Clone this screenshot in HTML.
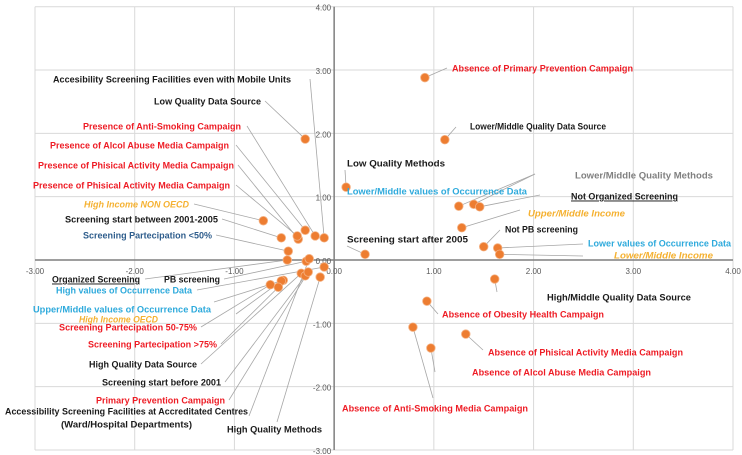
<!DOCTYPE html>
<html><head><meta charset="utf-8"><style>
html,body{margin:0;padding:0;background:#fff;}
svg{display:block;font-family:"Liberation Sans",sans-serif;}
</style></head><body>
<svg id="chart" width="742" height="455" viewBox="0 0 742 455" xmlns="http://www.w3.org/2000/svg"></svg>
<script>
// ---- data ----
const pointX = [0.91,1.11,0.12,1.25,1.40,1.46,1.28,1.50,1.64,1.66,0.31,1.61,0.93,1.32,0.97,0.79,
  -0.10,-0.29,-0.19,-0.29,-0.36,-0.37,-0.71,-0.53,-0.46,-0.47,-0.28,-0.10,-0.51,-0.53,-0.64,-0.56,-0.33,-0.29,-0.26,-0.25,-0.14];
const pointY = [2.88,1.90,1.15,0.85,0.88,0.84,0.51,0.21,0.19,0.09,0.09,-0.30,-0.65,-1.17,-1.39,-1.06,
  0.35,1.91,0.38,0.47,0.33,0.38,0.62,0.35,0.14,0.00,-0.02,-0.11,-0.32,-0.33,-0.39,-0.43,-0.21,-0.25,-0.19,0.02,-0.27];
const pointLabels = ["Absence of Primary Prevention Campaign","Lower/Middle Quality Data Source","Low  Quality Methods",
 "Lower/Middle values of Occurrence Data","Lower/Middle Quality Methods","Not Organized Screening","Upper/Middle Income",
 "Not PB screening","Lower values of Occurrence Data","Lower/Middle  Income","Screening start after 2005",
 "High/Middle Quality Data Source","Absence of Obesity Health Campaign","Absence of Phisical Activity Media Campaign",
 "Absence of Alcol Abuse Media Campaign","Absence of Anti-Smoking Media Campaign",
 "Accesibility Screening Facilities even with Mobile Units","Low Quality Data Source","Presence of Anti-Smoking Campaign",
 "Presence of Alcol Abuse Media Campaign","Presence of Phisical Activity Media Campaign","Presence of Phisical Activity Media Campaign",
 "High Income NON OECD","Screening start between 2001-2005","Screening Partecipation <50%","Organized Screening","PB screening",
 "High values of Occurrence Data","Upper/Middle values of Occurrence Data","High Income OECD","Screening Partecipation 50-75%",
 "Screening Partecipation >75%","High Quality Data Source","Screening start before 2001","Primary Prevention Campaign",
 "Accessibility Screening Facilities at Accreditated Centres","High Quality Methods"];
const xTicks = [-3,-2,-1,0,1,2,3,4];
const yTicks = [-3,-2,-1,0,1,2,3,4];
const xTickLabels = ["-3.00","-2.00","-1.00","0.00","1.00","2.00","3.00","4.00"];
const yTickLabels = ["-3.00","-2.00","-1.00","0.00","1.00","2.00","3.00","4.00"];
// label layout: [x, y, anchor, width, color, style, leaderX, leaderY]
const K="#1a1a1a",R="#ee1c25",C="#2eaadc",O="#f5b131",G="#808080",B="#2e5d8c";
const layout = [
 [452,68,"start",181,R,"",447,68],[470,126,"start",136,K,"",456,127],[347,163,"start",98,K,"",345,170],
 [347,191,"start",180,C,"",535,174],[575,175,"start",138,G,"",535,174],[571,196,"start",107,K,"u",540,195],
 [528,213,"start",97,O,"i",520,210],[505,229,"start",73,K,"",500,230],[588,243,"start",143,C,"",583,244],
 [614,255,"start",99,O,"i",583,256],[347,239,"start",121,K,"",347,246],[547,297,"start",144,K,"",497,292],
 [442,314,"start",162,R,"",438,314],[488,352,"start",195,R,"",483,350],[472,372,"start",179,R,"",435,372],
 [342,408,"start",186,R,"",433,398],
 [291,79,"end",238,K,"",310,79],[261,101,"end",107,K,"",265,101],[241,126,"end",158,R,"",247,126],
 [229,145,"end",179,R,"",236,145],[234,165,"end",196,R,"",238,165],[230,185,"end",197,R,"",236,185],
 [189,204,"end",105,O,"i",194,204],[218,219,"end",153,K,"",222,219],[212,235,"end",129,B,"",216,235],
 [52,279,"start",88,K,"u",145,279],[220,279,"end",56,K,"",224,279],[192,290,"end",136,C,"",197,290],
 [211,309,"end",178,C,"",214,302],[158,319,"end",79,O,"i",236,314],[197,327,"end",138,R,"",201,327],
 [217,344,"end",129,R,"",221,344],[197,364,"end",108,K,"",201,364],[221,382,"end",119,K,"",225,382],
 [225,400,"end",129,R,"",229,400],[248,411,"end",243,K,"",249,416],[322,429,"end",95,K,"",277,422]
];
// ---- scales ----
const x0=35,x1=733,y0=450,y1=6.7;
const sx=v=>x0+(v-(-3))*(x1-x0)/7;
const sy=v=>y0-(v-(-3))*(y0-y1)/7;
const svg=document.getElementById('chart');
const NS="http://www.w3.org/2000/svg";
function mk(tag,attrs){const e=document.createElementNS(NS,tag);for(const k in attrs)e.setAttribute(k,attrs[k]);svg.appendChild(e);return e;}
// gridlines
xTicks.forEach((t,i)=>{
  const g=mk('line',{x1:sx(t),x2:sx(t),y1:sy(4),y2:sy(-3),stroke:'#d9d9d9','stroke-width':1});
  
  
});
yTicks.forEach((t,i)=>{
  const g=mk('line',{x1:sx(-3),x2:sx(4),y1:sy(t),y2:sy(t),stroke:'#d9d9d9','stroke-width':1});
  
  
});
// axes
const xa=mk('line',{x1:sx(-3),x2:sx(4),y1:sy(0),y2:sy(0),stroke:'#7f7f7f','stroke-width':1.5});


const ya=mk('line',{x1:sx(0),x2:sx(0),y1:sy(4),y2:sy(-3),stroke:'#7f7f7f','stroke-width':1.5});


// tick labels
xTicks.forEach((t,i)=>{
  const e=mk('text',{x:sx(t),y:sy(0)+14,'text-anchor':'middle','font-size':8,fill:'#595959'});
  e.textContent=xTickLabels[i];
  
  
});
yTicks.forEach((t,i)=>{
  const e=mk('text',{x:sx(0)-3,y:sy(t)+4,'text-anchor':'end','font-size':8,fill:'#595959'});
  e.textContent=yTickLabels[i];
  
  
});
// leaders
pointX.forEach((v,i)=>{
  const L=layout[i];
  const l=mk('line',{x1:L[6],y1:L[7],x2:sx(v),y2:sy(pointY[i]),stroke:'#a6a6a6','stroke-width':0.8});
  
  
});
// points
pointX.forEach((v,i)=>{
  const c=mk('circle',{cx:sx(v),cy:sy(pointY[i]),r:4.3,fill:'#ed7d31',stroke:'#f4b183','stroke-width':0.8});
  
  
});
// labels
pointLabels.forEach((s,i)=>{
  const L=layout[i];
  const t=mk('text',{x:L[0],y:L[1]+3.5,'text-anchor':L[2],'font-size':9.5,'font-weight':'bold',fill:L[4],
    textLength:L[3],lengthAdjust:'spacingAndGlyphs'});
  if(L[5]==='i')t.setAttribute('font-style','italic');
  if(L[5]==='u')t.setAttribute('text-decoration','underline');
  t.textContent=s;
  
  
});
const t2=mk('text',{x:61,y:427.5,'font-size':9.5,'font-weight':'bold',fill:K,textLength:131,lengthAdjust:'spacingAndGlyphs'});
t2.textContent="(Ward/Hospital Departments)";


</script>
</body></html>
